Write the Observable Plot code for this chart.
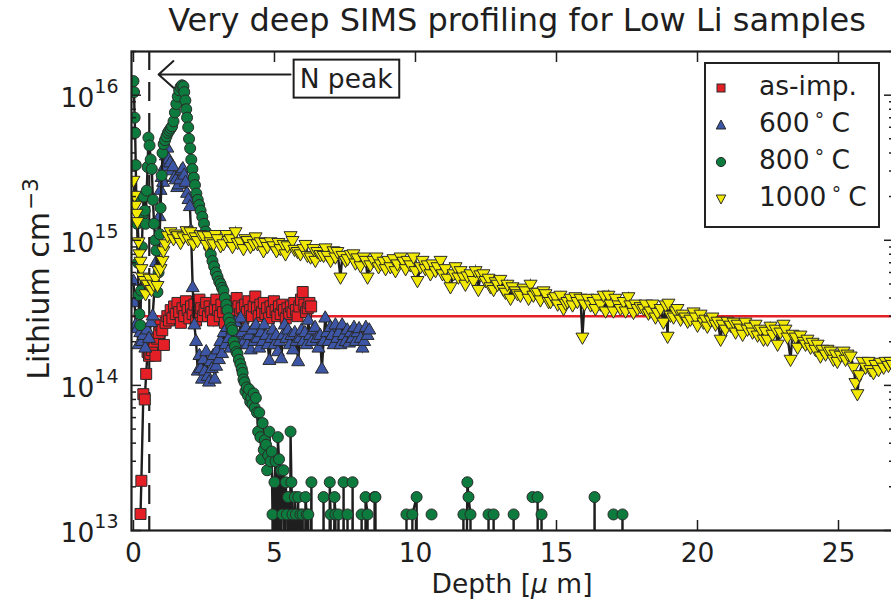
<!DOCTYPE html>
<html><head><meta charset="utf-8">
<script src="https://cdn.jsdelivr.net/npm/d3@7"></script>
<script src="https://cdn.jsdelivr.net/npm/@observablehq/plot@0.6"></script>
<style>
html,body{margin:0;padding:0;background:#fff;overflow:hidden;}
#wrap{position:relative;width:891px;height:604px;overflow:hidden;font-family:"DejaVu Sans",sans-serif;color:#1e1e1e;background:#fff;}
#chart{position:absolute;left:0;top:0;width:903px;height:604px;}
#chart svg{max-width:none !important;width:903px !important;height:604px !important;}
#title{position:absolute;left:136px;width:762px;top:4px;text-align:center;font-size:32px;line-height:32px;white-space:nowrap;}
#xlabel{position:absolute;left:512px;top:571px;transform:translateX(-50%);font-size:26.5px;line-height:26.5px;white-space:nowrap;}
#ylabel{position:absolute;left:40px;top:279px;transform:translate(-50%,-50%) rotate(-90deg);font-size:30px;line-height:30px;white-space:nowrap;}
.sup{position:relative;top:-0.5em;font-size:0.72em;margin-left:2px;}
#legend{position:absolute;left:704px;top:62px;width:172px;height:162px;border:2px solid #222;background:#fff;}
.lrow{position:absolute;left:0;height:30px;width:170px;}
.lrow svg{position:absolute;left:9px;}
.lrow span.t{position:absolute;left:53px;top:0;font-size:26.5px;line-height:26.5px;white-space:nowrap;}
.deg{display:inline-block;font-size:19px;position:relative;top:-11px;margin:0 6px 0 4px;}
</style></head>
<body>
<div id="wrap">
  <div id="chart"></div>
  <div id="title">Very deep SIMS profiling for Low Li samples</div>
  <div id="ylabel">Lithium cm<span class="sup">−3</span></div>
  <div id="xlabel">Depth [<i>μ</i> m]</div>
  <div id="legend"></div>
</div>
<script>
// ---- data: [depth (µm), Li concentration (cm^-3)] ----
const asImp = [[0.25,1.3e13],[0.28,2.2e13],[0.35,8.7e13],[0.40,8.0e13],[0.45,1.2e14],[0.50,1.7e14],[0.55,1.6e14],[0.60,1.65e14],[0.66,1.75e14],[0.72,2.0e14],[0.78,1.6e14],[0.84,2.1e14],[0.90,2.3e14],[0.96,2.6e14],[1.02,2.4e14],[1.08,1.9e14],[1.14,2.7e14],[1.20,3.0e14],[1.26,2.8e14],[1.32,3.3e14],[1.38,2.9e14],[1.44,3.5e14],[1.50,3.1e14],[1.56,3.7e14],[1.62,3.2e14],[1.68,2.7e14],[1.74,3.4e14],[1.80,3.0e14],[1.86,3.8e14],[1.92,3.3e14],[1.98,2.9e14],[2.04,3.5e14],[2.10,3.1e14],[2.16,3.6e14],[2.22,2.8e14],[2.28,3.2e14],[2.34,3.9e14],[2.40,3.4e14],[2.46,3.0e14],[2.52,3.3e14],[2.58,3.7e14],[2.64,3.0e14],[2.70,3.5e14],[2.76,3.2e14],[2.82,2.8e14],[2.88,3.4e14],[2.94,3.9e14],[3.00,3.3e14],[3.06,3.0e14],[3.12,3.6e14],[3.18,3.2e14],[3.24,2.7e14],[3.30,3.4e14],[3.36,3.8e14],[3.42,3.1e14],[3.48,3.5e14],[3.54,3.0e14],[3.60,3.3e14],[3.66,4.0e14],[3.72,3.5e14],[3.78,3.1e14],[3.84,3.4e14],[3.90,2.9e14],[3.96,3.6e14],[4.02,3.2e14],[4.08,3.8e14],[4.14,3.3e14],[4.20,3.0e14],[4.26,3.5e14],[4.32,4.1e14],[4.38,3.4e14],[4.44,3.0e14],[4.50,3.6e14],[4.56,3.2e14],[4.62,3.7e14],[4.68,3.1e14],[4.74,3.4e14],[4.80,2.9e14],[4.86,3.5e14],[4.92,3.2e14],[4.98,3.8e14],[5.04,3.3e14],[5.10,3.0e14],[5.16,3.5e14],[5.22,3.1e14],[5.28,3.6e14],[5.34,3.3e14],[5.40,2.9e14],[5.46,3.4e14],[5.52,3.1e14],[5.58,3.5e14],[5.64,3.2e14],[5.70,3.7e14],[5.76,3.3e14],[5.82,3.0e14],[5.88,3.5e14],[5.94,3.9e14],[6.00,4.4e14],[6.06,3.6e14],[6.12,3.2e14],[6.18,3.4e14],[6.24,3.7e14],[6.30,3.5e14]];

const t600 = [[0.00,5.2e14],[0.04,3.7e14],[0.08,2.6e14],[0.13,2.45e14],[0.18,1.9e14],[0.24,2.3e14],[0.30,2.0e14],[0.35,2.2e14],[0.42,1.8e14],[0.48,2.4e14],[0.55,2.1e14],[0.62,2.7e14],[0.68,3.0e14],[0.74,4.5e14],[0.80,7.0e14],[0.86,1.03e15],[0.92,1.45e15],[0.96,2.2e15],[1.00,2.7e15],[1.05,2.5e15],[1.10,3.2e15],[1.15,3.8e15],[1.20,4.3e15],[1.25,3.6e15],[1.30,3.4e15],[1.35,3.0e15],[1.40,3.2e15],[1.45,2.7e15],[1.50,2.6e15],[1.55,2.3e15],[1.60,2.4e15],[1.65,2.6e15],[1.70,3.0e15],[1.75,3.1e15],[1.80,2.8e15],[1.85,2.5e15],[1.90,2.1e15],[1.95,1.9e15],[2.00,1.7e15],[2.04,1.16e15],[2.10,4.7e14],[2.16,2.6e14],[2.22,2.0e14],[2.28,1.25e14],[2.34,1.6e14],[2.38,1.3e14],[2.43,1.1e14],[2.48,1.5e14],[2.53,1.25e14],[2.58,1.7e14],[2.63,1.15e14],[2.68,1.05e14],[2.73,1.45e14],[2.78,1.3e14],[2.83,1.6e14],[2.88,1.1e14],[2.93,1.35e14],[2.98,1.75e14],[3.03,1.5e14],[3.08,2.0e14],[3.14,1.65e14],[3.20,2.3e14],[3.26,1.9e14],[3.32,2.5e14],[3.38,2.1e14],[3.44,1.8e14],[3.50,2.4e14],[3.56,2.0e14],[3.62,2.7e14],[3.68,2.2e14],[3.74,1.9e14],[3.80,2.9e14],[3.86,2.3e14],[3.92,2.0e14],[3.98,2.5e14],[4.04,1.9e14],[4.10,2.2e14],[4.16,1.75e14],[4.22,2.4e14],[4.28,2.0e14],[4.34,2.6e14],[4.40,2.1e14],[4.46,1.8e14],[4.52,2.3e14],[4.58,2.0e14],[4.64,2.6e14],[4.70,2.2e14],[4.76,1.9e14],[4.82,1.48e14],[4.88,2.1e14],[4.94,2.4e14],[5.00,1.9e14],[5.06,2.2e14],[5.12,1.7e14],[5.18,2.0e14],[5.24,1.52e14],[5.30,2.2e14],[5.36,2.6e14],[5.42,2.1e14],[5.48,2.4e14],[5.54,1.9e14],[5.60,2.2e14],[5.66,1.75e14],[5.72,2.3e14],[5.78,2.0e14],[5.84,1.45e14],[5.90,2.1e14],[5.96,2.4e14],[6.02,2.0e14],[6.08,2.3e14],[6.14,1.9e14],[6.20,2.8e14],[6.26,2.2e14],[6.32,2.0e14],[6.38,2.4e14],[6.44,2.5e14],[6.50,2.1e14],[6.56,1.8e14],[6.62,2.2e14],[6.68,1.29e14],[6.74,2.0e14],[6.80,2.9e14],[6.86,2.3e14],[6.92,2.0e14],[6.98,2.5e14],[7.04,2.2e14],[7.10,1.9e14],[7.16,2.6e14],[7.22,2.1e14],[7.28,2.3e14],[7.34,1.9e14],[7.40,2.6e14],[7.46,2.2e14],[7.52,2.0e14],[7.58,2.4e14],[7.64,1.95e14],[7.70,2.3e14],[7.76,2.1e14],[7.82,2.5e14],[7.88,2.0e14],[7.94,2.3e14],[8.00,2.45e14],[8.06,2.1e14],[8.12,1.8e14],[8.18,2.0e14],[8.24,2.5e14],[8.30,2.2e14],[8.36,2.4e14]];

// 1e11 = value below the axis floor (line drops off the chart); null = gap
const t800 = [[0.00,1.25e16],[0.02,1.05e16],[0.04,7.0e15],[0.06,5.5e15],[0.08,3.3e15],[0.10,2.0e15],[0.13,1.3e15],[0.16,7.0e14],[0.18,4.2e14],[0.21,3.1e14],[0.24,2.6e14],[0.27,4.5e14],[0.30,9.0e14],[0.33,1.5e15],[0.36,2.0e15],[0.40,1.6e15],[0.43,1.3e15],[0.47,2.2e15],[0.50,3.2e15],[0.53,5.1e15],[0.57,4.5e15],[0.61,3.6e15],[0.65,3.1e15],[0.69,1.9e15],[0.73,1.3e15],[0.77,1.0e15],[0.81,8.5e14],[0.85,4.4e14],[0.89,6.0e14],[0.93,1.1e15],[0.96,1.67e15],[1.00,2.8e15],[1.03,4.0e15],[1.07,4.6e15],[1.12,4.9e15],[1.17,5.2e15],[1.22,5.5e15],[1.27,5.7e15],[1.32,5.9e15],[1.37,6.1e15],[1.42,6.6e15],[1.47,7.6e15],[1.52,8.7e15],[1.57,9.8e15],[1.62,1.08e16],[1.67,1.14e16],[1.72,1.17e16],[1.77,1.15e16],[1.80,1.05e16],[1.84,9.2e15],[1.87,8.0e15],[1.90,7.0e15],[1.94,6.0e15],[1.97,5.0e15],[2.01,4.3e15],[2.05,3.6e15],[2.09,3.1e15],[2.14,2.7e15],[2.18,2.4e15],[2.23,2.1e15],[2.28,1.9e15],[2.33,1.75e15],[2.38,1.6e15],[2.44,1.45e15],[2.50,1.3e15],[2.56,1.15e15],[2.62,1.03e15],[2.68,9.0e14],[2.74,8.0e14],[2.80,7.2e14],[2.86,6.6e14],[2.92,6.0e14],[2.98,5.6e14],[3.04,5.2e14],[3.09,5.0e14],[3.14,4.7e14],[3.19,4.5e14],[3.24,4.0e14],[3.29,3.6e14],[3.33,3.3e14],[3.37,2.9e14],[3.42,2.7e14],[3.47,2.5e14],[3.51,2.4e14],[3.55,2.0e14],[3.60,1.85e14],[3.65,1.7e14],[3.69,1.65e14],[3.74,1.5e14],[3.79,1.4e14],[3.84,1.3e14],[3.87,1.22e14],[3.90,1.1e14],[3.94,1.05e14],[3.97,9.1e13],[4.02,9.7e13],[4.06,8.5e13],[4.10,9.4e13],[4.14,7.7e13],[4.18,8.2e13],[4.22,7.4e13],[4.26,8.8e13],[4.30,7.0e13],[4.34,8.2e13],[4.38,6.5e13],[4.42,4.8e13],[4.46,6.5e13],[4.50,4.4e13],[4.54,3.1e13],[4.58,5.5e13],[4.62,3.6e13],[4.66,4.2e13],[4.70,3.9e13],[4.74,2.6e13],[4.78,3.3e13],[4.82,4.8e13],[4.86,3.0e13],[4.90,3.5e13],[4.93,1.29e13],[4.96,1e11],[5.00,2.15e13],[5.04,3.0e13],[5.08,1e11],[5.12,4.4e13],[5.16,3.1e13],[5.20,1e11],[5.24,2.6e13],[5.28,1.29e13],[5.32,2.6e13],[5.36,1e11],[5.40,2.15e13],[5.44,1.29e13],[5.48,1.7e13],[5.52,1e11],[5.57,4.8e13],[5.60,2.15e13],[5.64,1.29e13],[5.68,1e11],[5.72,1.7e13],[5.76,1.29e13],[5.80,1e11],[5.84,1.7e13],[5.88,1e11],[5.92,1.29e13],[5.96,1e11],[6.00,1.29e13],[6.04,1e11],[6.10,1.7e13],[6.14,1.29e13],[6.17,1e11],[6.20,1.29e13],[6.24,1e11],[6.31,2.15e13],[6.34,1e11],[6.37,null],[6.72,1e11],[6.74,1.7e13],[6.77,1e11],[6.80,null],[6.94,1e11],[6.96,2.15e13],[6.99,1.29e13],[7.02,1e11],[7.13,1.7e13],[7.16,1.29e13],[7.19,1e11],[7.27,1.29e13],[7.30,1e11],[7.43,1e11],[7.45,2.15e13],[7.48,1e11],[7.57,1e11],[7.59,1.29e13],[7.62,1e11],[7.75,1e11],[7.77,2.15e13],[7.80,1e11],[7.83,null],[8.07,1e11],[8.09,1.29e13],[8.12,1e11],[8.21,1e11],[8.23,1.7e13],[8.30,1.29e13],[8.33,1e11],[8.53,1e11],[8.55,1.7e13],[8.58,1.7e13],[8.61,1e11],[8.64,null],[9.68,1.29e13],[9.71,1e11],[9.87,1e11],[9.89,1.29e13],[10.04,1.7e13],[10.07,1e11],[10.10,null],[10.57,1.29e13],[10.60,null],[11.68,1e11],[11.70,1.29e13],[11.73,1e11],[11.84,2.15e13],[11.88,1.7e13],[11.95,1.29e13],[11.98,1e11],[12.01,null],[12.57,1e11],[12.59,1.29e13],[12.62,1e11],[12.75,1e11],[12.77,1.29e13],[12.80,1e11],[12.83,null],[13.46,1e11],[13.48,1.29e13],[13.51,1e11],[13.54,null],[14.15,1.7e13],[14.33,1.7e13],[14.36,1e11],[14.45,1e11],[14.47,1.29e13],[14.50,1e11],[14.53,null],[16.33,1e11],[16.35,1.7e13],[16.38,1e11],[16.41,null],[17.02,1.29e13],[17.05,null],[17.32,1e11],[17.34,1.29e13],[17.37,1e11]];

const t1000 = [[0.00,2.6e15],[0.04,2.05e15],[0.07,1.75e15],[0.11,1.54e15],[0.14,1.35e15],[0.18,9.8e14],[0.21,8.1e14],[0.25,7.2e14],[0.28,6.4e14],[0.32,5.6e14],[0.39,5.3e14],[0.43,4.3e14],[0.50,5.0e14],[0.57,5.5e14],[0.64,4.6e14],[0.71,5.0e14],[0.78,5.5e14],[0.85,4.9e14],[0.89,6.2e14],[0.96,6.4e14],[1.03,7.3e14],[1.06,8.5e14],[1.13,9.5e14],[1.21,1.08e15],[1.31,1.15e15],[1.42,1.03e15],[1.49,1.11e15],[1.56,1.08e15],[1.67,9.7e14],[1.77,1.06e15],[1.88,1.17e15],[1.95,1.03e15],[2.02,1.15e15],[2.13,9.5e14],[2.20,1.06e15],[2.27,1.0e15],[2.38,1.10e15],[2.48,1.08e15],[2.59,9.4e14],[2.66,1.08e15],[2.73,9.8e14],[2.84,9.5e14],[2.91,1.10e15],[2.98,1.03e15],[3.09,9.2e14],[3.19,9.5e14],[3.30,1.10e15],[3.37,1.0e15],[3.44,1.03e15],[3.51,9.1e14],[3.62,1.15e15],[3.69,9.7e14],[3.79,9.8e14],[3.90,8.8e14],[3.97,1.03e15],[4.04,1.0e15],[4.15,9.1e14],[4.26,9.5e14],[4.33,1.06e15],[4.40,9.5e14],[4.50,9.8e14],[4.61,8.5e14],[4.68,9.7e14],[4.75,9.1e14],[4.86,9.8e14],[4.96,9.2e14],[5.07,8.5e14],[5.14,9.7e14],[5.21,8.8e14],[5.32,9.4e14],[5.39,8.1e14],[5.46,9.2e14],[5.57,1.08e15],[5.64,1.0e15],[5.71,8.7e14],[5.82,8.4e14],[5.92,8.1e14],[6.03,8.8e14],[6.10,9.4e14],[6.17,7.9e14],[6.28,7.7e14],[6.38,8.8e14],[6.45,7.3e14],[6.52,8.4e14],[6.63,8.0e14],[6.74,7.9e14],[6.81,8.9e14],[6.88,7.9e14],[6.99,7.3e14],[7.09,8.5e14],[7.16,7.7e14],[7.23,8.4e14],[7.34,5.6e14],[7.41,7.9e14],[7.52,7.3e14],[7.59,7.5e14],[7.70,8.0e14],[7.80,8.1e14],[7.87,7.0e14],[7.94,7.6e14],[8.05,6.7e14],[8.16,7.7e14],[8.23,7.3e14],[8.30,5.6e14],[8.40,6.8e14],[8.51,7.3e14],[8.62,7.7e14],[8.69,6.6e14],[8.76,6.9e14],[8.87,7.2e14],[8.94,6.4e14],[9.04,7.3e14],[9.11,6.6e14],[9.22,7.5e14],[9.29,6.2e14],[9.36,6.9e14],[9.47,7.7e14],[9.57,7.2e14],[9.65,6.4e14],[9.72,7.3e14],[9.82,6.8e14],[9.93,7.7e14],[10.00,6.2e14],[10.07,5.3e14],[10.18,6.6e14],[10.25,7.3e14],[10.35,6.4e14],[10.43,6.8e14],[10.53,5.9e14],[10.60,6.9e14],[10.71,6.2e14],[10.78,6.6e14],[10.89,7.3e14],[10.96,5.9e14],[11.06,6.4e14],[11.13,5.5e14],[11.24,4.8e14],[11.35,5.9e14],[11.42,6.6e14],[11.52,5.6e14],[11.60,6.2e14],[11.70,5.6e14],[11.77,5.0e14],[11.84,5.7e14],[11.95,5.9e14],[12.06,5.3e14],[12.13,6.2e14],[12.23,4.6e14],[12.30,5.8e14],[12.41,5.9e14],[12.48,5.3e14],[12.59,5.5e14],[12.66,4.8e14],[12.77,4.6e14],[12.84,5.2e14],[12.91,5.0e14],[13.01,5.4e14],[13.12,4.6e14],[13.19,4.4e14],[13.26,5.0e14],[13.37,4.0e14],[13.44,4.8e14],[13.55,4.5e14],[13.62,4.3e14],[13.72,4.2e14],[13.83,4.7e14],[13.90,4.5e14],[14.01,4.0e14],[14.08,5.0e14],[14.18,4.2e14],[14.26,4.4e14],[14.33,4.4e14],[14.43,3.9e14],[14.54,4.5e14],[14.61,4.3e14],[14.72,3.8e14],[14.79,3.8e14],[14.89,4.0e14],[14.96,4.1e14],[15.04,3.65e14],[15.14,4.2e14],[15.25,3.4e14],[15.32,3.7e14],[15.39,3.8e14],[15.50,4.0e14],[15.57,3.6e14],[15.67,4.1e14],[15.74,3.8e14],[15.85,4.0e14],[15.92,2.16e14],[15.99,3.65e14],[16.10,4.0e14],[16.21,3.6e14],[16.31,3.8e14],[16.38,3.4e14],[16.45,4.0e14],[16.56,3.65e14],[16.67,4.2e14],[16.74,3.27e14],[16.84,4.2e14],[16.91,3.65e14],[17.02,3.27e14],[17.09,4.0e14],[17.20,3.6e14],[17.27,3.4e14],[17.38,3.8e14],[17.45,3.27e14],[17.55,4.1e14],[17.62,3.6e14],[17.73,3.2e14],[17.80,3.65e14],[17.87,3.4e14],[17.98,3.5e14],[18.09,3.4e14],[18.16,3.65e14],[18.26,3.16e14],[18.33,3.27e14],[18.40,3.65e14],[18.51,2.97e14],[18.58,3.2e14],[18.69,3.4e14],[18.79,2.74e14],[18.87,3.6e14],[18.94,2.19e14],[18.97,3.7e14],[19.04,3.06e14],[19.15,2.97e14],[19.22,3.27e14],[19.29,3.4e14],[19.40,2.87e14],[19.47,3.11e14],[19.57,2.97e14],[19.65,2.78e14],[19.75,2.87e14],[19.86,3.22e14],[19.93,2.97e14],[20.00,2.61e14],[20.11,3.11e14],[20.21,2.74e14],[20.28,2.87e14],[20.35,2.57e14],[20.46,2.83e14],[20.53,2.97e14],[20.64,2.65e14],[20.71,2.78e14],[20.82,2.09e14],[20.89,2.65e14],[20.99,2.45e14],[21.06,2.78e14],[21.17,2.61e14],[21.28,2.74e14],[21.35,2.34e14],[21.42,2.65e14],[21.52,2.49e14],[21.60,2.26e14],[21.70,2.74e14],[21.77,2.45e14],[21.88,2.53e14],[21.95,2.34e14],[22.06,2.65e14],[22.13,2.23e14],[22.23,2.45e14],[22.34,2.09e14],[22.41,2.37e14],[22.48,2.09e14],[22.59,2.57e14],[22.66,2.26e14],[22.77,2.45e14],[22.84,1.93e14],[22.94,2.34e14],[23.05,2.65e14],[23.12,2.45e14],[23.19,2.16e14],[23.30,1.52e14],[23.37,2.26e14],[23.48,2.16e14],[23.55,1.84e14],[23.65,2.23e14],[23.76,2.02e14],[23.83,1.93e14],[23.90,2.09e14],[24.01,1.84e14],[24.08,1.99e14],[24.18,1.78e14],[24.26,1.93e14],[24.36,1.60e14],[24.43,1.78e14],[24.54,1.65e14],[24.61,1.78e14],[24.72,1.73e14],[24.82,1.52e14],[24.89,1.65e14],[24.96,1.47e14],[25.07,1.62e14],[25.18,1.73e14],[25.25,1.52e14],[25.32,1.65e14],[25.43,1.60e14],[25.53,1.34e14],[25.60,1.05e14],[25.67,8.8e13],[25.74,1.19e14],[25.85,1.47e14],[25.96,1.34e14],[26.06,1.47e14],[26.13,1.29e14],[26.24,1.23e14],[26.31,1.40e14],[26.42,1.29e14],[26.49,1.45e14],[26.60,1.34e14],[26.67,1.47e14],[26.77,1.38e14],[26.84,1.47e14],[26.91,1.40e14]];

const seriesNames = ["as-imp.", "600", "800", "1000"];
const seriesColors = ["#e41f26", "#3c55a5", "#0c7b3d", "#f2ea05"];
const refLevel = [3e14];          // horizontal red reference line
const nPeakDepth = [0.56];        // dashed vertical line
const nPeakLabel = [{label: "N peak", depth: 7.54, li: 1.29e16}];
const nPeakArrow = [{from: 5.57, to: 0.89, li: 1.39e16}];
const xTicks = [0, 5, 10, 15, 20, 25];
const yMajor = [1e13, 1e14, 1e15, 1e16];
const yMinor = [2e13,3e13,4e13,5e13,6e13,7e13,8e13,9e13,2e14,3e14,4e14,5e14,6e14,7e14,8e14,9e14,2e15,3e15,4e15,5e15,6e15,7e15,8e15,9e15,2e16];

// ---- marker symbols ----
const R = s => Math.sqrt(s / Math.PI);
const squareSym = {draw(c, s) { const r = R(s); c.moveTo(-r,-r); c.lineTo(r,-r); c.lineTo(r,r); c.lineTo(-r,r); c.closePath(); }};
const triUpSym = {draw(c, s) { const r = R(s), h = r*Math.sqrt(3)/2; c.moveTo(0,-r); c.lineTo(h,r/2); c.lineTo(-h,r/2); c.closePath(); }};
const triDownSym = {draw(c, s) { const r = R(s), h = r*Math.sqrt(3)/2; c.moveTo(0,r); c.lineTo(h,-r/2); c.lineTo(-h,-r/2); c.closePath(); }};
const circleSym = {draw(c, s) { const r = R(s); c.moveTo(r,0); c.arc(0,0,r,0,2*Math.PI); c.closePath(); }};

const toRows = arr => arr.map(([depth, li]) => ({depth, li}));
const series = [
  {data: toRows(asImp), symbol: squareSym, r: 5.5},
  {data: toRows(t600), symbol: triUpSym, r: 7.5},
  {data: toRows(t800), symbol: circleSym, r: 5.5},
  {data: toRows(t1000), symbol: triDownSym, r: 7.5}
];

const ink = "#1e1e1e";
const seriesMarks = series.flatMap((s, i) => [
  Plot.line(s.data, {x: "depth", y: "li", stroke: ink, strokeWidth: 2.4, clip: true, strokeLinejoin: "miter", strokeMiterlimit: 6}),
  Plot.dot(s.data, {x: "depth", y: "li", symbol: s.symbol, r: s.r, fill: seriesColors[i], stroke: "#2a2a2a", strokeWidth: 1, clip: true})
]);

const noText = () => "";
const plot = Plot.plot({
  width: 903, height: 604,
  marginLeft: 131, marginRight: 10, marginTop: 51, marginBottom: 74,
  style: {fontFamily: "DejaVu Sans, sans-serif", fontSize: "26.5px", color: ink, background: "transparent", overflow: "visible", maxWidth: "none"},
  x: {type: "linear", domain: [-0.07, 26.95]},
  y: {type: "log", domain: [1e13, 2e16]},
  marks: [
    Plot.ruleY(refLevel, {stroke: "#e41f26", strokeWidth: 2.5}),
    Plot.ruleX(nPeakDepth, {stroke: ink, strokeWidth: 2.2, strokeDasharray: "19,12"}),
    ...seriesMarks,
    Plot.frame({stroke: ink, strokeWidth: 2.2}),
    // labels
    Plot.axisX({anchor: "bottom", ticks: xTicks, tickSize: 0, tickPadding: 13, fontSize: 26.5, label: null}),
    Plot.axisY({anchor: "left", ticks: yMajor, tickSize: 0, tickPadding: 13, dy: 3, fontSize: 26.5, label: null,
                tickFormat: d => "10^" + Math.round(Math.log10(d))}),
    // inward ticks on all four sides
    Plot.axisX({anchor: "bottom", ticks: xTicks, tickSize: -10, tickFormat: noText, label: null, strokeWidth: 1.5}),
    Plot.axisX({anchor: "top", ticks: xTicks, tickSize: -10, tickFormat: noText, label: null, strokeWidth: 1.5}),
    Plot.axisY({anchor: "left", ticks: yMajor, tickSize: -10, tickFormat: noText, label: null, strokeWidth: 1.5}),
    Plot.axisY({anchor: "left", ticks: yMinor, tickSize: -5, tickFormat: noText, label: null, strokeWidth: 1.5}),
    Plot.axisY({anchor: "right", ticks: yMajor, tickSize: -10, tickFormat: noText, label: null, strokeWidth: 1.5}),
    Plot.axisY({anchor: "right", ticks: yMinor, tickSize: -5, tickFormat: noText, label: null, strokeWidth: 1.5}),
    // N peak annotation
    Plot.arrow(nPeakArrow, {x1: "from", x2: "to", y1: "li", y2: "li", stroke: ink, strokeWidth: 2, headLength: 15, headAngle: 84}),
    Plot.text(nPeakLabel, {x: "depth", y: "li", text: "label", fontSize: 26.5, fill: ink})
  ]
});
plot.style.maxWidth = "none";
plot.setAttribute("width", 903);
plot.setAttribute("height", 604);
document.getElementById("chart").appendChild(plot);

// superscript exponents on y tick labels
d3.select(plot).selectAll('text').each(function() {
  const t = this.textContent;
  if (!/^10\^\d+$/.test(t)) return;
  const [b, e] = t.split("^");
  this.textContent = "";
  const sel = d3.select(this);
  sel.append("tspan").text(b);
  sel.append("tspan").attr("dy", -14).attr("font-size", "19px").text(e);
});

// box around the "N peak" label (same local transform as the text)
d3.select(plot).selectAll('text').filter(function() { return this.textContent === nPeakLabel[0].label; }).each(function() {
  const bb = this.getBBox();
  const rect = document.createElementNS("http://www.w3.org/2000/svg", "rect");
  const tr = this.getAttribute("transform");
  if (tr) rect.setAttribute("transform", tr);
  rect.setAttribute("x", bb.x - 6); rect.setAttribute("y", bb.y - 3);
  rect.setAttribute("width", bb.width + 12); rect.setAttribute("height", bb.height + 7);
  rect.setAttribute("fill", "white"); rect.setAttribute("stroke", ink); rect.setAttribute("stroke-width", 2);
  this.parentNode.insertBefore(rect, this);
});

// legend
const legendSymbols = [
  '<rect x="2" y="2" width="8" height="8"/>',
  '<polygon points="6,1 10.8,10 1.2,10"/>',
  '<circle cx="6" cy="6" r="4.6"/>',
  '<polygon points="6,11 10.8,2 1.2,2"/>'
];
const legend = d3.select("#legend");
const rowTops = [0, 37, 74, 111];
seriesNames.forEach((name, i) => {
  const row = legend.append("div").attr("class", "lrow").style("top", (rowTops[i] + 9) + "px");
  row.append("svg").attr("width", 12).attr("height", 12).style("top", "9px")
    .html(`<g fill="${seriesColors[i]}" stroke="#2a2a2a" stroke-width="1">${legendSymbols[i]}</g>`);
  const t = row.append("span").attr("class", "t");
  if (i === 0) t.text(name);
  else t.html(`${name}<span class="deg">∘</span>C`);
});
</script>
</body></html>
